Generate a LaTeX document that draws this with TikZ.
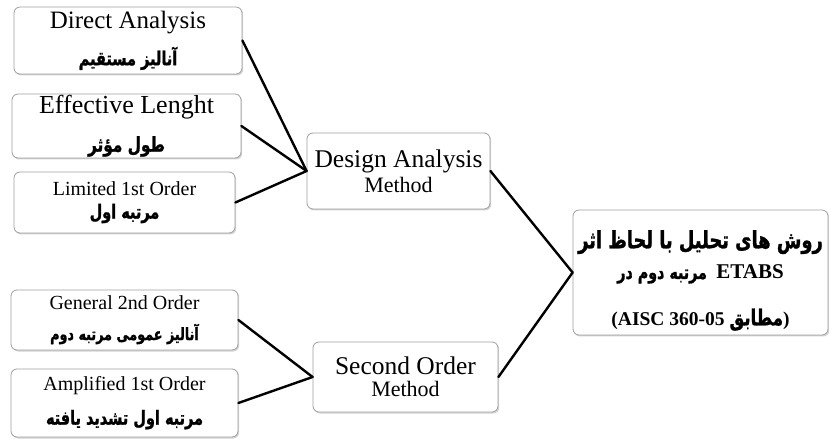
\documentclass[tikz,border=0pt]{standalone}
\usepackage{fontspec}
\setmainfont{Liberation Serif}
\newfontfamily\farsi[Script=Arabic, FakeStretch=0.75, BoldFeatures={FakeBold=1.2}]{DejaVu Sans}
\TeXXeTstate=1
\usetikzlibrary{shadows}
\newcommand\pers[1]{{\farsi\bfseries\beginR #1\endR}}
\newcommand\fsz[1]{\fontsize{#1}{#1}\selectfont}
\begin{document}
\begin{tikzpicture}[x=1pt, y=1pt, line join=round, line cap=round]
    \tikzset{box/.style={draw=gray!75, line width=0.8pt, rounded corners=6pt, fill=white, align=center, inner sep=0pt,
                         drop shadow={shadow xshift=1.2pt, shadow yshift=-1.5pt, opacity=0.35}},
             link/.style={line width=2.4pt}}
    \useasboundingbox (0,0) rectangle (829,439);
    % left column
    \node[box, minimum width=228pt, minimum height=67pt] (da) at (128,398.5)
        {\fsz{25}Direct Analysis\\[12pt]\fsz{19.3}\pers{آنالیز مستقیم}};
    \node[box, minimum width=229pt, minimum height=64pt] (el) at (126.5,313)
        {\fsz{26}Effective Lenght\\[16pt]\fsz{20.4}\pers{طول مؤثر}};
    \node[box, minimum width=221pt, minimum height=61pt] (lf) at (124.5,236.5)
        {\fsz{20}Limited 1st Order\\[7pt]\fsz{19.3}\pers{مرتبه اول}};
    \node[box, minimum width=227pt, minimum height=60pt] (gs) at (124.5,119)
        {\fsz{20}General 2nd Order\\[13pt]\fsz{17}\pers{آنالیز عمومی مرتبه دوم}};
    \node[box, minimum width=227pt, minimum height=68pt] (af) at (124.5,36)
        {\fsz{20}Amplified 1st Order\\[14pt]\fsz{19.3}\pers{مرتبه اول تشدید یافته}};
    % middle column
    \node[box, minimum width=183pt, minimum height=76pt] (dam) at (398.5,268)
        {\fsz{25.5}Design Analysis\\[3pt]\fsz{22}Method};
    \node[box, minimum width=185pt, minimum height=70pt] (so) at (405.5,62)
        {\fsz{25.5}Second Order\\[6pt]\fsz{22}Method};
    % right
    \node[box, minimum width=255pt, minimum height=125pt] (rt) at (700.5,166.5)
        {\rule{0pt}{34pt}\fsz{23.8}\pers{روش های تحلیل با لحاظ اثر}\\[10pt]
         \fsz{19}\pers{مرتبه دوم در}\ \ {\fsz{21}\textbf{ETABS}}\\[24pt]
         \fsz{19.5}\textbf{(AISC 360-05\ }{\fsz{22}\pers{مطابق}}\textbf{)}};
    \foreach \a/\b in {da/dam, el/dam, lf/dam, gs/so, af/so, dam/rt, so/rt}
        \draw[link] (\a.east) -- (\b.west);
\end{tikzpicture}
\end{document}
